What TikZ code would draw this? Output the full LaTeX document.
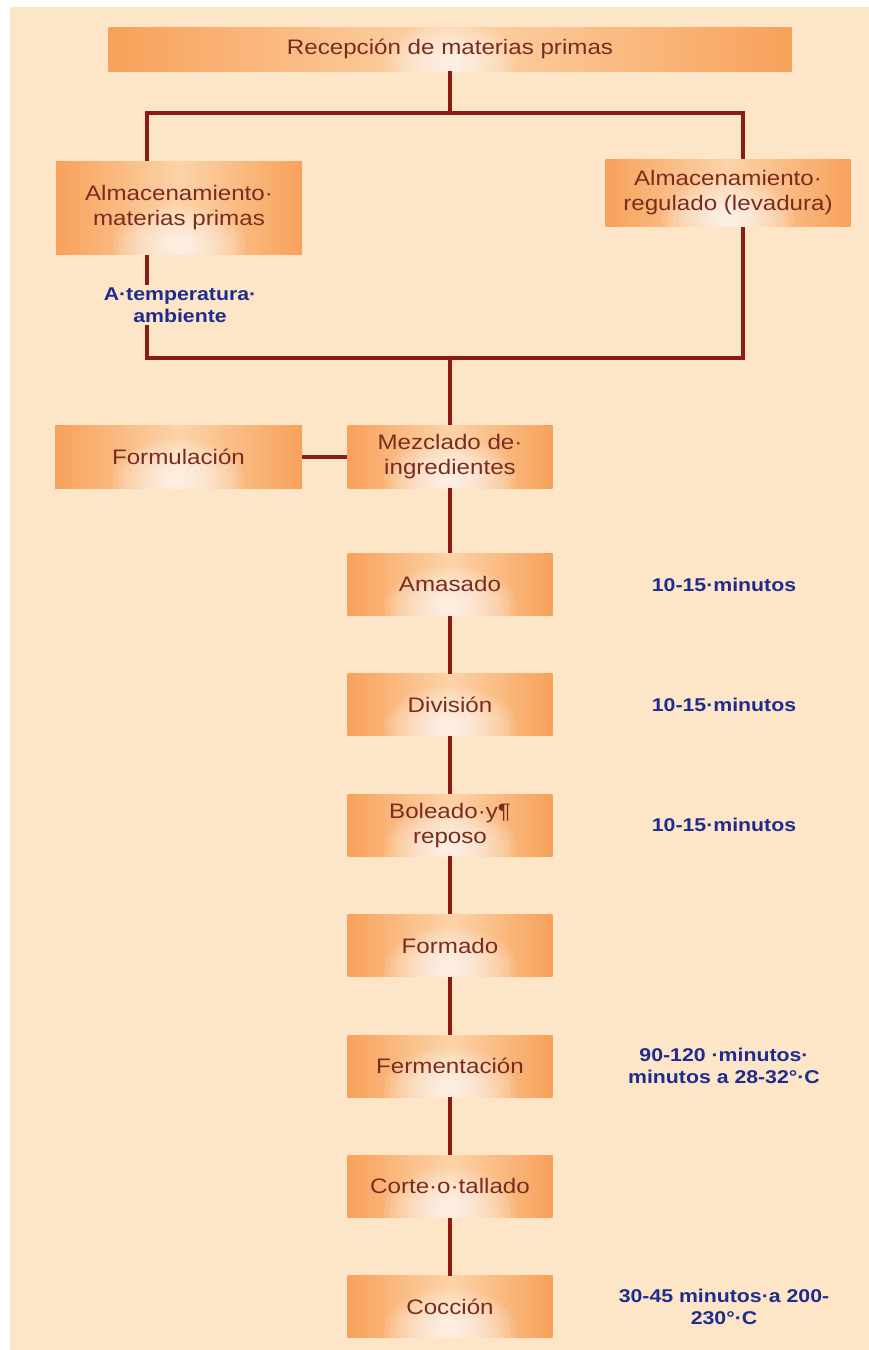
\documentclass[tikz,border=0pt]{standalone}
\usepackage{fontspec}
\setmainfont{Liberation Sans}[FakeStretch=1.15]
\usetikzlibrary{positioning}
\definecolor{panelbg}{HTML}{FDE6C7}
\definecolor{boxorange}{HTML}{F8A15A}
\definecolor{boxlight}{HTML}{FCD3A8}
\definecolor{steptext}{HTML}{7B2C20}
\definecolor{linkred}{HTML}{8C1C12}
\definecolor{noteblue}{HTML}{202B8E}
\tikzset{
  stepbox/.style = {rectangle, left color=boxorange, right color=boxorange,
                    middle color=boxlight, text=steptext, align=center,
                    font=\fontsize{21}{25}\selectfont, inner sep=2pt,
                    minimum width=205pt, minimum height=62pt,
                    path picture={\foreach \r in {1,...,12}
                      \fill[white, opacity=0.1]
                        ([yshift=8pt]path picture bounding box.south)
                        ellipse [x radius=5.5*\r pt, y radius=3.4*\r pt];}},
  note/.style    = {text=noteblue, align=center, inner sep=2pt,
                    font=\fontsize{18.5}{22}\selectfont\bfseries},
  link/.style    = {-, line width=4pt, draw=linkred},
}

\begin{document}
\begin{tikzpicture}[x=1pt, y=-1pt, node distance=58pt]
    \useasboundingbox (0,0) rectangle (869,1350);
    \fill[panelbg] (10,7) rectangle (869,1350);

    % --- reception and storage ----------------------------------------------
    \node[stepbox, minimum width=683pt, minimum height=44pt] (recep) at (450,49)
      {Recepción de materias primas};
    \node[stepbox, minimum width=246pt, minimum height=93pt] (almMat) at (179,208)
      {Almacenamiento·\\materias primas};
    \node[stepbox, minimum width=245pt, minimum height=67pt] (almLev) at (728,193)
      {Almacenamiento·\\regulado (levadura)};
    \node[note] (tempNote) at (180,305) {A·temperatura·\\ambiente};

    \coordinate (split)    at (450,113);
    \coordinate (leftTop)  at (147,113);
    \coordinate (rightTop) at (743,113);
    \coordinate (leftBot)  at (147,358);
    \coordinate (rightBot) at (743,358);
    \coordinate (join)     at (450,358);
    \coordinate (notecol)  at (724,0);

    % --- process chain ------------------------------------------------------
    \node[stepbox, minimum height=63pt] (mezcla) at (450,456.5)
      {Mezclado de·\\ingredientes};
    \node[stepbox, minimum width=247pt, minimum height=63pt] (formul) at (178.5,456.5)
      {Formulación};
    \node[stepbox, below=65pt of mezcla] (amasado) {Amasado};
    \node[stepbox, below=of amasado] (division) {División};
    \node[stepbox, below=of division] (boleado) {Boleado·y¶\\reposo};
    \node[stepbox, below=of boleado] (formado) {Formado};
    \node[stepbox, below=of formado] (ferment) {Fermentación};
    \node[stepbox, below=of ferment] (corte) {Corte·o·tallado};
    \node[stepbox, below=of corte] (coccion) {Cocción};

    % --- times and temperatures ---------------------------------------------
    \node[note] (amasadoNote)  at (amasado -| notecol)  {10-15·minutos};
    \node[note] (divisionNote) at (division -| notecol) {10-15·minutos};
    \node[note] (boleadoNote)  at (boleado -| notecol)  {10-15·minutos};
    \node[note] (fermentNote)  at (ferment -| notecol)
      {90-120 ·minutos·\\minutos a 28-32°·C};
    \node[note] (coccionNote)  at (coccion -| notecol)
      {30-45 minutos·a 200-\\230°·C};

    % --- edges --------------------------------------------------------------
    \draw[link] (recep) -- (split);
    \draw[link] (almMat.north -| leftTop) -- (leftTop) -- (rightTop)
      -- (almLev.north -| rightTop);
    \draw[link] (almMat.south -| leftTop) -- (tempNote.north -| leftTop);
    \draw[link] (tempNote.south -| leftTop) -- (leftBot) -- (rightBot)
      -- (almLev.south -| rightTop);
    \draw[link] (join) -- (mezcla);
    \draw[link] (formul) -- (mezcla);
    \foreach \a/\b in {mezcla/amasado, amasado/division, division/boleado,
                       boleado/formado, formado/ferment, ferment/corte,
                       corte/coccion}
      \draw[link] (\a) -- (\b);
\end{tikzpicture}
\end{document}
